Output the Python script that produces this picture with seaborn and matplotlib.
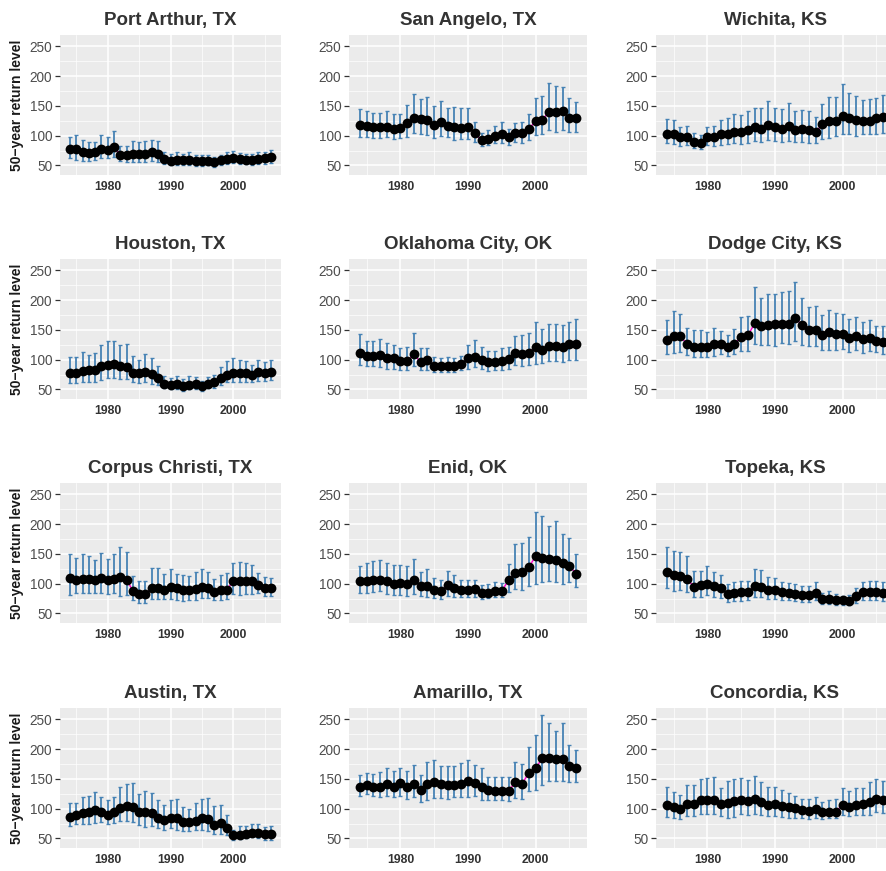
import numpy as np
import pandas as pd
import matplotlib
matplotlib.use("Agg")
import matplotlib.pyplot as plt
import seaborn as sns
from matplotlib.ticker import MultipleLocator

# --- dados (nível de retorno de 50 anos) ---
anos = list(range(1974, 2007))

port_arthur_est = [78, 77, 72, 71, 73, 78, 76, 81, 68, 67, 69, 70, 70, 73, 69, 61, 58, 60, 59, 60, 57, 57, 58, 55, 59, 61, 63, 61, 60, 60, 61, 63, 64]
port_arthur_sup = [98, 101, 92, 90, 90, 101, 98, 108, 83, 82, 91, 90, 91, 92, 91, 72, 70, 73, 70, 72, 67, 68, 68, 65, 68, 72, 74, 71, 69, 69, 72, 73, 76]
port_arthur_inf = [62, 60, 58, 58, 60, 63, 62, 64, 57, 56, 56, 56, 56, 58, 56, 52, 50, 51, 50, 51, 49, 49, 50, 48, 50, 52, 54, 52, 52, 51, 52, 53, 54]

san_angelo_est = [118, 116, 114, 114, 115, 112, 113, 121, 130, 128, 127, 118, 123, 117, 114, 113, 114, 105, 92, 95, 100, 102, 97, 104, 104, 111, 125, 127, 140, 139, 141, 129, 129]
san_angelo_sup = [144, 142, 138, 138, 141, 136, 137, 151, 170, 161, 165, 149, 159, 146, 148, 146, 146, 123, 104, 110, 117, 123, 112, 122, 123, 137, 163, 167, 188, 184, 182, 164, 157]
san_angelo_inf = [97, 98, 96, 96, 98, 95, 96, 98, 104, 102, 101, 96, 100, 97, 93, 94, 95, 90, 83, 85, 88, 87, 84, 89, 88, 93, 101, 102, 110, 107, 110, 106, 106]

wichita_est = [103, 102, 97, 98, 90, 88, 98, 97, 102, 103, 106, 106, 109, 114, 112, 118, 114, 111, 116, 110, 111, 109, 106, 119, 124, 124, 133, 129, 126, 125, 125, 129, 132]
wichita_sup = [128, 126, 115, 116, 105, 101, 115, 116, 126, 130, 137, 134, 141, 146, 146, 158, 146, 145, 155, 142, 143, 141, 132, 153, 165, 165, 186, 171, 166, 160, 162, 163, 168]
wichita_inf = [87, 86, 83, 84, 79, 78, 84, 83, 85, 86, 87, 86, 88, 91, 90, 92, 91, 89, 91, 89, 89, 87, 87, 94, 96, 99, 103, 102, 100, 102, 102, 103, 105]

houston_est = [77, 78, 81, 82, 82, 89, 91, 93, 89, 88, 78, 77, 79, 76, 69, 60, 58, 59, 56, 58, 59, 55, 60, 62, 69, 75, 78, 77, 77, 75, 79, 78, 80]
houston_sup = [104, 104, 113, 108, 111, 125, 131, 132, 124, 127, 106, 100, 109, 103, 90, 72, 70, 72, 67, 72, 71, 65, 71, 75, 88, 98, 102, 100, 98, 91, 99, 96, 99]
houston_inf = [61, 61, 63, 63, 63, 66, 69, 70, 68, 67, 62, 61, 62, 60, 57, 52, 50, 51, 48, 50, 50, 48, 52, 53, 58, 62, 63, 63, 63, 62, 65, 65, 66]

oklahoma_est = [112, 106, 106, 108, 102, 102, 98, 98, 109, 96, 99, 90, 89, 90, 89, 92, 102, 105, 99, 96, 96, 98, 101, 111, 110, 112, 121, 116, 123, 123, 121, 126, 126]
oklahoma_sup = [143, 131, 132, 134, 128, 124, 119, 122, 144, 120, 120, 105, 102, 105, 103, 107, 125, 133, 121, 115, 115, 119, 121, 140, 141, 144, 163, 151, 160, 160, 158, 163, 168]
oklahoma_inf = [91, 89, 89, 87, 85, 85, 83, 83, 89, 82, 83, 80, 79, 80, 79, 82, 85, 87, 84, 81, 82, 82, 84, 91, 90, 91, 93, 94, 97, 97, 96, 99, 99]

dodge_est = [133, 139, 139, 126, 122, 121, 121, 127, 127, 121, 127, 138, 141, 161, 156, 158, 160, 160, 160, 170, 158, 150, 149, 142, 146, 143, 143, 137, 140, 135, 136, 131, 130]
dodge_sup = [167, 182, 177, 154, 149, 149, 147, 153, 148, 142, 151, 172, 174, 222, 203, 210, 211, 214, 215, 231, 203, 188, 190, 175, 183, 178, 177, 168, 172, 163, 166, 157, 157]
dodge_inf = [109, 112, 113, 108, 105, 104, 105, 106, 109, 107, 109, 114, 114, 127, 125, 124, 123, 128, 126, 131, 124, 123, 123, 117, 117, 117, 118, 113, 116, 112, 115, 113, 110]

corpus_est = [110, 106, 108, 108, 107, 109, 106, 108, 111, 107, 88, 82, 82, 92, 93, 90, 94, 92, 89, 89, 91, 94, 93, 86, 89, 90, 105, 105, 105, 105, 98, 93, 93]
corpus_sup = [150, 143, 149, 147, 139, 151, 142, 149, 162, 153, 113, 105, 104, 126, 127, 116, 125, 117, 115, 113, 120, 124, 120, 108, 114, 118, 135, 136, 134, 132, 118, 112, 110]
corpus_inf = [81, 84, 84, 84, 84, 84, 83, 84, 80, 81, 72, 68, 68, 74, 75, 74, 74, 73, 71, 72, 73, 76, 76, 72, 73, 74, 83, 81, 83, 83, 84, 80, 80]

enid_est = [104, 104, 107, 107, 104, 100, 101, 100, 106, 96, 96, 90, 88, 97, 93, 90, 90, 91, 84, 85, 87, 88, 106, 118, 120, 128, 146, 143, 142, 140, 134, 130, 117]
enid_sup = [129, 134, 138, 140, 135, 132, 132, 130, 141, 120, 124, 110, 106, 121, 114, 107, 107, 106, 97, 99, 102, 101, 133, 166, 169, 179, 221, 213, 197, 205, 183, 176, 149]
enid_inf = [85, 85, 86, 87, 83, 81, 81, 79, 83, 79, 78, 76, 75, 80, 78, 78, 78, 78, 74, 76, 77, 77, 86, 91, 90, 96, 100, 102, 105, 103, 100, 102, 95]

topeka_est = [119, 114, 113, 108, 95, 97, 100, 96, 92, 83, 85, 86, 86, 96, 95, 90, 90, 86, 85, 82, 81, 81, 85, 75, 75, 73, 72, 71, 79, 86, 86, 86, 84]
topeka_sup = [162, 155, 154, 147, 121, 122, 130, 120, 114, 99, 103, 105, 105, 125, 123, 112, 110, 103, 101, 99, 96, 96, 103, 85, 87, 83, 80, 81, 92, 103, 105, 105, 102]
topeka_inf = [93, 88, 89, 86, 78, 78, 81, 77, 76, 70, 71, 71, 72, 77, 77, 74, 74, 73, 72, 71, 70, 70, 72, 66, 66, 65, 65, 64, 68, 72, 72, 72, 71]

austin_est = [86, 89, 93, 94, 98, 95, 90, 95, 101, 104, 102, 94, 94, 92, 85, 81, 85, 85, 78, 77, 80, 85, 83, 73, 76, 68, 55, 56, 58, 60, 59, 57, 57]
austin_sup = [109, 110, 119, 121, 128, 119, 114, 119, 136, 141, 143, 125, 129, 126, 114, 106, 114, 117, 103, 99, 109, 116, 118, 104, 107, 89, 64, 71, 71, 75, 74, 70, 71]
austin_inf = [71, 74, 75, 75, 76, 77, 74, 76, 79, 80, 78, 72, 70, 71, 67, 65, 67, 64, 63, 63, 64, 65, 62, 57, 58, 55, 48, 49, 50, 52, 51, 48, 48]

amarillo_est = [136, 140, 137, 137, 141, 136, 143, 137, 142, 132, 141, 144, 142, 140, 140, 142, 147, 143, 137, 132, 130, 130, 129, 145, 142, 160, 168, 185, 185, 183, 184, 171, 168]
amarillo_sup = [156, 160, 158, 162, 169, 163, 169, 164, 173, 157, 179, 182, 172, 171, 172, 176, 181, 173, 169, 154, 153, 153, 153, 179, 175, 203, 223, 257, 243, 231, 243, 207, 198]
amarillo_inf = [122, 124, 121, 120, 121, 119, 122, 117, 120, 112, 114, 118, 118, 117, 119, 120, 120, 122, 115, 115, 115, 114, 113, 118, 117, 130, 132, 140, 147, 146, 147, 145, 144]

concordia_est = [106, 102, 100, 108, 108, 114, 115, 114, 108, 109, 113, 114, 113, 116, 112, 107, 108, 105, 102, 101, 98, 96, 99, 94, 95, 95, 107, 103, 107, 108, 111, 116, 114]
concordia_sup = [137, 128, 123, 140, 139, 150, 152, 153, 135, 147, 149, 151, 148, 155, 145, 136, 136, 132, 126, 121, 116, 116, 119, 112, 115, 116, 135, 129, 134, 135, 144, 149, 147]
concordia_inf = [86, 84, 83, 87, 87, 91, 91, 91, 88, 85, 86, 91, 90, 91, 90, 87, 87, 86, 85, 85, 84, 83, 85, 83, 84, 84, 89, 88, 89, 89, 90, 94, 93]

cidades = [
    ("Port Arthur, TX", port_arthur_est, port_arthur_sup, port_arthur_inf),
    ("San Angelo, TX", san_angelo_est, san_angelo_sup, san_angelo_inf),
    ("Wichita, KS", wichita_est, wichita_sup, wichita_inf),
    ("Houston, TX", houston_est, houston_sup, houston_inf),
    ("Oklahoma City, OK", oklahoma_est, oklahoma_sup, oklahoma_inf),
    ("Dodge City, KS", dodge_est, dodge_sup, dodge_inf),
    ("Corpus Christi, TX", corpus_est, corpus_sup, corpus_inf),
    ("Enid, OK", enid_est, enid_sup, enid_inf),
    ("Topeka, KS", topeka_est, topeka_sup, topeka_inf),
    ("Austin, TX", austin_est, austin_sup, austin_inf),
    ("Amarillo, TX", amarillo_est, amarillo_sup, amarillo_inf),
    ("Concordia, KS", concordia_est, concordia_sup, concordia_inf),
]

# --- estilo parecido com ggplot ---
sns.set_theme(style="darkgrid", rc={
    "axes.facecolor": "#EBEBEB",
    "grid.color": "white",
    "axes.edgecolor": "none",
})
plt.rcParams["font.family"] = ["Liberation Sans", "DejaVu Sans"]

W, H = 886, 871
fig = plt.figure(figsize=(W / 100, H / 100), dpi=100)
fig.patch.set_facecolor("white")

col_left = [60, 349, 656]
col_width = [221, 238, 238]
row_top = [35, 259, 483, 708]
altura = 140

for i, (nome, est, sup, inf) in enumerate(cidades):
    lin, col = divmod(i, 3)
    ax = fig.add_axes([col_left[col] / W, 1 - (row_top[lin] + altura) / H,
                       col_width[col] / W, altura / H])
    df = pd.DataFrame({"ano": anos, "est": est, "sup": sup, "inf": inf})

    sns.lineplot(data=df, x="ano", y="est", color="#FF00CC", linewidth=1.0,
                 estimator=None, ax=ax, zorder=2)
    ax.errorbar(df["ano"], df["est"],
                yerr=[df["est"] - df["inf"], df["sup"] - df["est"]],
                fmt="none", ecolor="#4682B4", elinewidth=1.3, capsize=1.6,
                capthick=1.0, zorder=3)
    sns.scatterplot(data=df, x="ano", y="est", color="black", s=50,
                    linewidth=0, ax=ax, zorder=4)

    ax.set_xlim(1972.4, 2007.6)
    ax.set_ylim(34, 269)
    ax.xaxis.set_major_locator(MultipleLocator(10))
    ax.xaxis.set_minor_locator(MultipleLocator(5))
    ax.yaxis.set_major_locator(MultipleLocator(50))
    ax.yaxis.set_minor_locator(MultipleLocator(25))
    ax.grid(which="major", color="white", linewidth=1.1)
    ax.grid(which="minor", color="white", linewidth=0.5)
    ax.set_axisbelow(True)

    ax.tick_params(axis="y", which="major", length=3.5, width=0.9,
                   color="#333333", labelsize=9.8, labelcolor="#4D4D4D", pad=2, left=True)
    ax.tick_params(axis="x", which="major", length=0, labelsize=8.8,
                   labelcolor="#333333", pad=4)
    ax.tick_params(which="minor", length=0)
    for t in ax.get_xticklabels():
        t.set_fontweight("bold")

    ax.set_xlabel("")
    if col == 0:
        ax.set_ylabel("50\u2212year return level", fontsize=10, fontweight="bold",
                      color="#1A1A1A", labelpad=4)
    else:
        ax.set_ylabel("")
    ax.set_title(nome, fontsize=13.5, fontweight="bold", color="#333333", pad=7)

fig.savefig("out.png", dpi=100)
